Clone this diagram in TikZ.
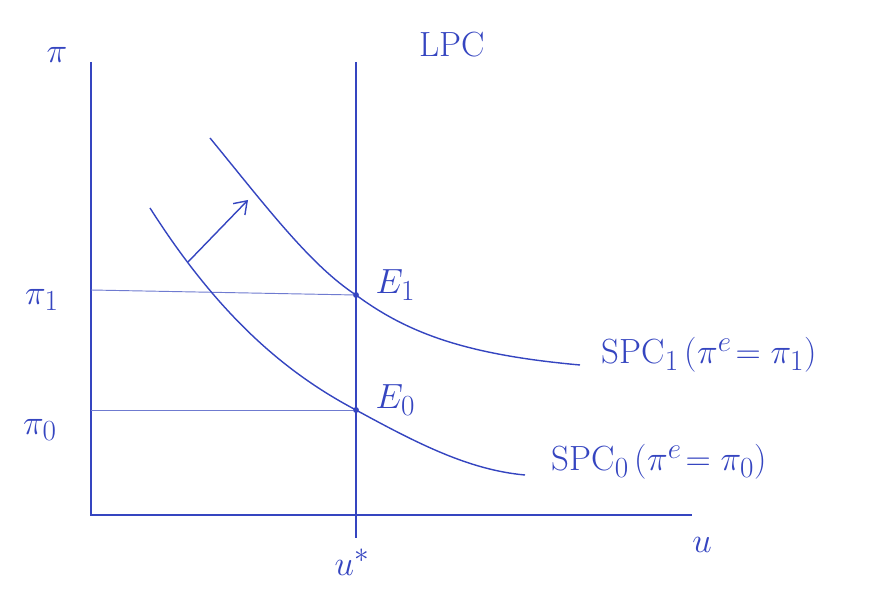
\documentclass[tikz,border=0pt]{standalone}
\usepackage{tikz}
\usetikzlibrary{arrows.meta, positioning, calc}
\definecolor{pblue}{HTML}{3545C0}
\definecolor{pbluepale}{HTML}{6F7BD0}

\begin{document}
\begin{tikzpicture}[x=0.03cm, y=-0.03cm,
  axisline/.style={pblue, line width=1.6pt},
  curveline/.style={pblue, line width=1.2pt},
  helpline/.style={pbluepale, line width=0.8pt},
  lab/.style={text=pblue, font=\Huge, inner sep=1pt, scale=1.2, transform shape},
  eqdot/.style={circle, fill=pblue, inner sep=0pt, minimum size=5pt}]

  %% Frame
  \useasboundingbox (0,0) rectangle (890,595);

  %% Axes
  \coordinate (yTop) at (91,62);
  \coordinate (org) at (91,515);
  \coordinate (xEnd) at (692,515);
  \draw[axisline] (yTop) -- (org) -- (xEnd);
  \node[lab] (piAx) at (57,55) {$\pi$};
  \node[lab] (uAx) at (702,545) {$u$};

  %% Long-run Phillips curve
  \coordinate (lpcTop) at (356,62);
  \coordinate (lpcBot) at (356,538);
  \draw[axisline, line width=1.3pt] (lpcTop) -- (lpcBot);
  \node[lab] (lpc) at (452,45) {LPC};
  \node[lab] (ustar) at (352,562) {$u^{*}$};

  %% Equilibria
  \node[eqdot] (E1) at (356,295) {};
  \node[eqdot] (E0) at (356,410) {};
  \node[lab, anchor=west] (E1lab) at (374,285) {$E_1$};
  \node[lab, anchor=west] (E0lab) at (374,400) {$E_0$};

  %% Expected inflation levels
  \coordinate (pi1ax) at (91,290);
  \coordinate (pi0ax) at (91,410);
  \node[lab] (pi1) at (42,300) {$\pi_1$};
  \node[lab] (pi0) at (40,430) {$\pi_0$};
  \draw[helpline] (pi1ax) -- (E1);
  \draw[helpline] (pi0ax) -- (E0);

  %% Short-run Phillips curves
  \coordinate (spc1a) at (210,138);
  \coordinate (spc1b) at (580,365);
  \coordinate (spc0a) at (150,208);
  \coordinate (spc0b) at (525,475);
  \draw[curveline] (spc1a) .. controls (265,205) and (310,265) .. (E1.center)
    .. controls (410,335) and (470,355) .. (spc1b);
  \draw[curveline] (spc0a) .. controls (215,310) and (280,370) .. (E0.center)
    .. controls (420,445) and (470,470) .. (spc0b);
  \node[lab, anchor=west] (spc1) at (600,355) {SPC$_1$\,($\pi^{e}\!=\pi_1$)};
  \node[lab, anchor=west] (spc0) at (550,462) {SPC$_0$\,($\pi^{e}\!=\pi_0$)};

  %% Shift
  \coordinate (shiftA) at (188,262);
  \coordinate (shiftB) at (248,200);
  \draw[curveline, -{Straight Barb[length=10pt, width=14pt]}] (shiftA) -- (shiftB);

\end{tikzpicture}
\end{document}
